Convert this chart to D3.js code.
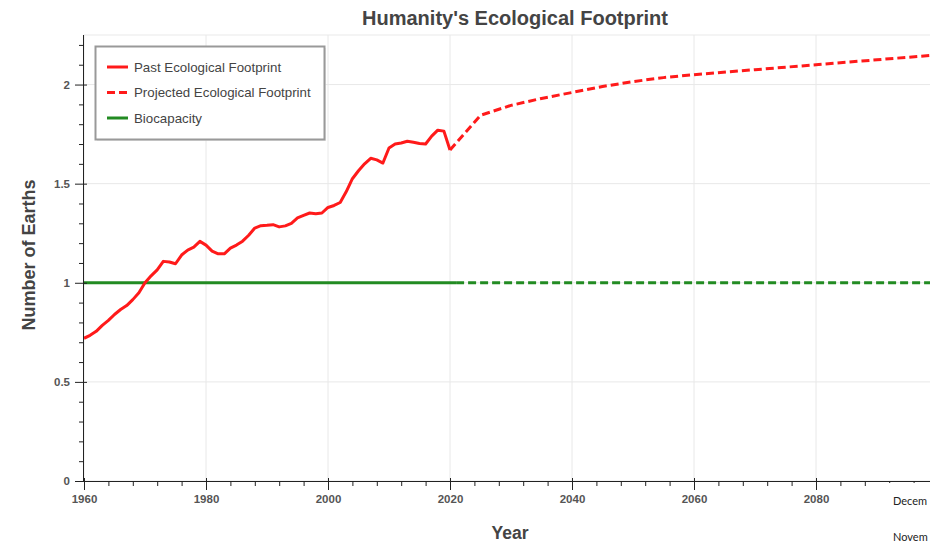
<!DOCTYPE html>
<html><head><meta charset="utf-8">
<script src="https://cdn.jsdelivr.net/npm/d3@7"></script>
<style>
body{margin:0;background:#fff}
svg{display:block;font-family:"Liberation Sans",Arial,Helvetica,sans-serif}
</style>
</head><body>
<svg id="chart" width="930" height="545"></svg>
<script>
// ---- data ----
const pastYears = [1960,1961,1962,1963,1964,1965,1966,1967,1968,1969,1970,1971,1972,1973,1974,1975,1976,1977,1978,1979,
  1980,1981,1982,1983,1984,1985,1986,1987,1988,1989,1990,1991,1992,1993,1994,1995,1996,1997,1998,1999,
  2000,2001,2002,2003,2004,2005,2006,2007,2008,2009,2010,2011,2012,2013,2014,2015,2016,2017,2018,2019,2020];
const pastValues = [0.72,0.735,0.755,0.785,0.81,0.84,0.865,0.885,0.915,0.95,1.0,1.035,1.065,1.108,1.105,1.096,1.14,1.165,1.18,1.209,
  1.19,1.16,1.146,1.146,1.175,1.19,1.21,1.24,1.276,1.288,1.29,1.293,1.282,1.287,1.3,1.327,1.34,1.352,1.348,1.352,
  1.38,1.39,1.405,1.46,1.525,1.565,1.6,1.628,1.62,1.604,1.68,1.7,1.705,1.714,1.709,1.703,1.7,1.74,1.77,1.765,1.67];
const projYears = [2020,2025,2030,2035,2040,2045,2050,2055,2060,2070,2080,2090,2100];
const projValues = [1.67,1.845,1.895,1.93,1.96,1.99,2.015,2.035,2.05,2.075,2.10,2.125,2.15];
const bioPastYears = [1960,2021];
const bioPastValues = [1,1];
const bioProjYears = [2021,2100];
const bioProjValues = [1,1];
const xTicks = [1960,1980,2000,2020,2040,2060,2080];
const yTicks = [0,0.5,1,1.5,2];
const yTickLabels = ["0","0.5","1","1.5","2"];
const legendLabels = ["Past Ecological Footprint","Projected Ecological Footprint","Biocapacity"];

// ---- layout ----
const svg = d3.select("#chart");
const L = 84, R = 946, T = 35, B = 481;
const x = d3.scaleLinear().domain([1960,2080]).range([84,816]);
const y = d3.scaleLinear().domain([0,2.25]).range([B,T]);
const red = "#ff1a1a", green = "#228b22", axisCol = "#222", labCol = "#444";

// frame outline + grid
svg.append("rect").attr("x",L).attr("y",T).attr("width",R-L).attr("height",B-T)
  .attr("fill","none").attr("stroke","#e9e9e9").attr("stroke-width",1);
svg.append("g").selectAll("line").data(xTicks.filter(d=>d>1960)).join("line")
  .attr("x1",d=>x(d)).attr("x2",d=>x(d)).attr("y1",T).attr("y2",B)
  .attr("stroke","#e8e8e8").attr("stroke-width",1);
svg.append("g").selectAll("line").data(yTicks.filter(d=>d>0)).join("line")
  .attr("x1",L).attr("x2",R).attr("y1",d=>y(d)).attr("y2",d=>y(d))
  .attr("stroke","#e8e8e8").attr("stroke-width",1);

// lines
const clip = svg.append("clipPath").attr("id","clip").append("rect")
  .attr("x",L).attr("y",T-5).attr("width",R-L).attr("height",B-T+5);
const plot = svg.append("g").attr("clip-path","url(#clip)");
const line = d3.line().x(d=>x(d[0])).y(d=>y(d[1]));
const zip = (a,b)=>a.map((v,i)=>[v,b[i]]);
plot.append("path").datum(zip(bioPastYears,bioPastValues)).attr("d",line)
  .attr("fill","none").attr("stroke",green).attr("stroke-width",3);
plot.append("path").datum(zip(bioProjYears,bioProjValues)).attr("d",line)
  .attr("fill","none").attr("stroke",green).attr("stroke-width",3).attr("stroke-dasharray","8,4");
plot.append("path").datum(zip(pastYears,pastValues)).attr("d",line)
  .attr("fill","none").attr("stroke",red).attr("stroke-width",3).attr("stroke-linejoin","round");
plot.append("path").datum(zip(projYears,projValues)).attr("d",line)
  .attr("fill","none").attr("stroke",red).attr("stroke-width",3).attr("stroke-dasharray","8,4");

// axes
const xMinor = d3.range(1960,2101,4).filter(d=>(d-1960)%20!==0);
const yMinor = d3.range(0,23).map(i=>i/10).filter(d=>Math.abs(d*2-Math.round(d*2))>1e-6);
const xAx = svg.append("g").attr("transform",`translate(0,${B})`)
  .call(d3.axisBottom(x).tickValues(xTicks).tickFormat(d3.format("d")).tickSizeInner(9).tickSizeOuter(0).tickPadding(5));
xAx.select(".domain").attr("d",`M${L},0.5H${R}`);
const xMin = svg.append("g").attr("transform",`translate(0,${B})`)
  .call(d3.axisBottom(x).tickValues(xMinor).tickFormat("").tickSizeInner(5).tickSizeOuter(0));
xMin.select(".domain").remove();
xAx.selectAll(".tick").append("line").attr("y1",0).attr("y2",-3).attr("stroke",axisCol);
const yAx = svg.append("g").attr("transform",`translate(${L},0)`)
  .call(d3.axisLeft(y).tickValues(yTicks).tickFormat((d,i)=>yTickLabels[i]).tickSizeInner(9).tickSizeOuter(0).tickPadding(5));
yAx.select(".domain").attr("d",`M-0.5,${B}V${T}`);
yAx.selectAll(".tick").append("line").attr("x1",0).attr("x2",3).attr("stroke",axisCol);
const yMin = svg.append("g").attr("transform",`translate(${L},0)`)
  .call(d3.axisLeft(y).tickValues(yMinor).tickFormat("").tickSizeInner(5).tickSizeOuter(0));
yMin.select(".domain").remove();
[xAx,xMin,yAx,yMin].forEach(g=>{
  g.selectAll("path,line").attr("stroke",axisCol).attr("stroke-width",1);
  g.selectAll("text").attr("fill","#555").attr("font-size",11.5).attr("font-weight","bold")
   .attr("font-family","'Liberation Sans',Arial,sans-serif");
});

// titles
svg.append("text").attr("x",515).attr("y",25).attr("text-anchor","middle")
  .attr("font-size",20).attr("font-weight","bold").attr("fill",labCol)
  .text("Humanity's Ecological Footprint");
svg.append("text").attr("x",510).attr("y",539).attr("text-anchor","middle")
  .attr("font-size",17.5).attr("font-weight","bold").attr("fill",labCol).text("Year");
svg.append("text").attr("transform","translate(35,255) rotate(-90)").attr("text-anchor","middle")
  .attr("font-size",18).attr("font-weight","bold").attr("fill",labCol).text("Number of Earths");

// legend
const lg = svg.append("g");
lg.append("rect").attr("x",97).attr("y",48).attr("width",229).attr("height",93)
  .attr("fill","#ddd").attr("opacity",0.6);
lg.append("rect").attr("x",95.5).attr("y",46.5).attr("width",229).attr("height",93)
  .attr("fill","#fff").attr("stroke","#999").attr("stroke-width",2);
const legStyles = [{c:red,dash:null},{c:red,dash:"8,4"},{c:green,dash:null}];
legendLabels.forEach((t,i)=>{
  const cy = 67 + i*25.5;
  lg.append("line").attr("x1",107).attr("x2",128).attr("y1",cy).attr("y2",cy)
    .attr("stroke",legStyles[i].c).attr("stroke-width",3).attr("stroke-dasharray",legStyles[i].dash);
  lg.append("text").attr("x",134).attr("y",cy+4.5).attr("font-size",13.3).attr("fill",labCol).text(t);
});

// bottom-right overlay
svg.append("rect").attr("x",889).attr("y",483).attr("width",41).attr("height",62).attr("fill","#fff");
svg.append("text").attr("x",893).attr("y",505).attr("font-size",11).attr("fill","#222")
  .attr("font-family","Lato,'Open Sans',sans-serif").text("Decem");
svg.append("text").attr("x",893).attr("y",541).attr("font-size",11).attr("fill","#222")
  .attr("font-family","Lato,'Open Sans',sans-serif").text("Novem");
</script>
</body></html>
